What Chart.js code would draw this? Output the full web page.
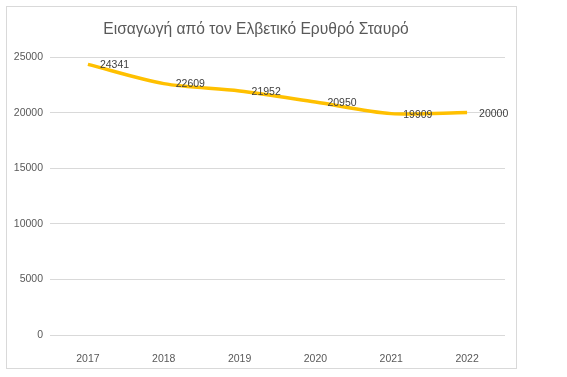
<!DOCTYPE html>
<html>
<head>
<meta charset="utf-8">
<script src="https://cdn.jsdelivr.net/npm/chart.js@4"></script>
<style>
  body { margin: 0; background: #fff; }
  #box { position: absolute; left: 6px; top: 6px; width: 509px; height: 361px; border: 1px solid #d9d9d9; }
</style>
</head>
<body>
<div id="box"><canvas id="chart" width="509" height="361"></canvas></div>
<script>
const years = ['2017', '2018', '2019', '2020', '2021', '2022'];
const imports = [24341, 22609, 21952, 20950, 19909, 20000];
const titleText = 'Εισαγωγή από τον Ελβετικό Ερυθρό Σταυρό';

// labels to the right of each point, like excel's "right" position
const pointLabels = {
  id: 'pointLabels',
  afterDatasetsDraw(chart) {
    const ctx = chart.ctx;
    const meta = chart.getDatasetMeta(0);
    ctx.save();
    ctx.font = '10.5px "Liberation Sans", sans-serif';
    ctx.fillStyle = '#404040';
    ctx.textAlign = 'left';
    ctx.textBaseline = 'middle';
    meta.data.forEach((pt, i) => {
      ctx.fillText(String(imports[i]), pt.x + 12, pt.y + 1);
    });
    ctx.restore();
  }
};

new Chart(document.getElementById('chart'), {
  type: 'line',
  data: {
    labels: years,
    datasets: [{
      label: 'Εισαγωγή',
      data: imports,
      borderColor: '#FFC000',
      borderWidth: 3.5,
      pointRadius: 0,
      tension: 0.3,
      fill: false
    }]
  },
  options: {
    responsive: false,
    animation: false,
    layout: { padding: { left: 0, right: 11, bottom: 0, top: 0 } },
    plugins: {
      legend: { display: false },
      tooltip: { enabled: false },
      title: {
        display: true,
        text: titleText,
        color: '#595959',
        font: { family: '"Liberation Sans", sans-serif', size: 15.6, weight: 'normal' },
        padding: { top: 13, bottom: 18.3 }
      }
    },
    scales: {
      x: {
        offset: true,
        grid: { display: false },
        border: { display: false },
        ticks: { color: '#595959', font: { family: '"Liberation Sans", sans-serif', size: 10.5 }, padding: 10 },
        afterFit(scale) { scale.height = 33; }
      },
      y: {
        min: 0,
        max: 25000,
        grid: { color: '#d9d9d9', drawTicks: false },
        border: { display: false },
        ticks: {
          stepSize: 5000,
          color: '#595959',
          font: { family: '"Liberation Sans", sans-serif', size: 10.5 },
          padding: 7,
          callback: v => String(v)
        },
        afterFit(scale) { scale.width = 43; }
      }
    }
  },
  plugins: [pointLabels]
});
</script>
</body>
</html>
